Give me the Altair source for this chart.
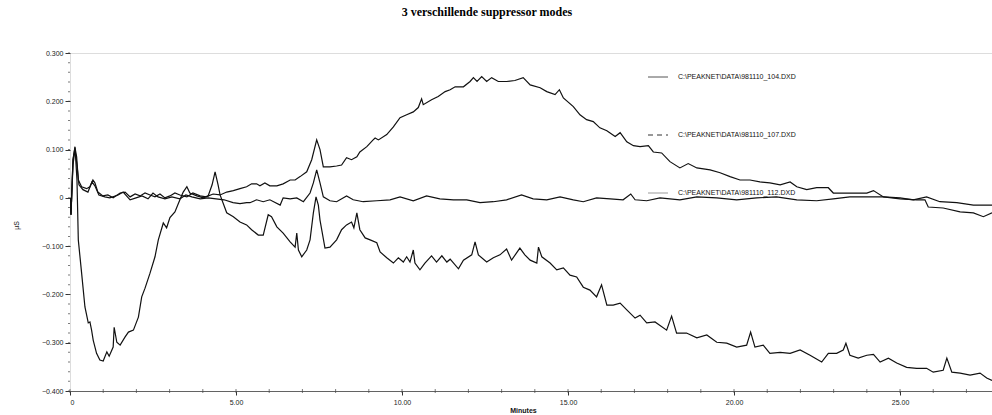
import altair as alt
import pandas as pd
import numpy as np

TITLE = "3 verschillende suppressor modes"
LABELS = ["C:\\PEAKNET\\DATA\\981110_104.DXD",
          "C:\\PEAKNET\\DATA\\981110_107.DXD",
          "C:\\PEAKNET\\DATA\\981110_112.DXD"]

# series 104 (rising drift)
T_104 = [0, 0.03, 0.09, 0.15, 0.20, 0.25, 0.35, 0.50, 0.60, 0.69, 0.75, 0.84, 0.99, 1.14, 1.30, 1.51, 1.66,
         1.81, 1.96, 2.11, 2.26, 2.41, 2.56, 2.71, 2.86, 3.01, 3.16, 3.31, 3.52, 3.70, 3.92, 4.10, 4.31, 4.52,
         4.72, 4.92, 5.12, 5.32, 5.47, 5.62, 5.72, 5.87, 6.02, 6.23, 6.42, 6.63, 6.78, 6.93, 7.13, 7.28, 7.43,
         7.53, 7.63, 7.83, 8.03, 8.18, 8.33, 8.48, 8.64, 8.73, 8.94, 9.13, 9.19, 9.29, 9.54, 9.74, 9.94, 10.14,
         10.34, 10.49, 10.59, 10.64, 10.89, 11.09, 11.30, 11.45, 11.60, 11.85, 12.05, 12.15, 12.26, 12.40,
         12.55, 12.70, 12.90, 13.15, 13.40, 13.65, 13.86, 14.16, 14.36, 14.61, 14.74, 14.86, 15.16, 15.36,
         15.56, 15.76, 15.96, 16.17, 16.42, 16.57, 16.77, 16.97, 17.17, 17.42, 17.57, 17.82, 18.07, 18.37,
         18.62, 18.88, 19.28, 19.58, 19.88, 20.18, 20.48, 20.78, 21.08, 21.39, 21.69, 21.89, 22.19, 22.49,
         22.84, 22.99, 23.49, 24.00, 24.20, 24.50, 25.00, 25.40, 25.80, 26.20, 26.71, 27.21, 27.77]
V_104 = [0, -0.035, 0.079, 0.104, 0.085, 0.037, 0.023, 0.019, 0.023, 0.037, 0.031, 0.012, 0.004, 0.006, 0.0,
         0.010, 0.012, 0.002, 0.008, 0.004, 0.010, 0.006, 0.002, 0.008, 0.0, 0.004, 0.010, 0.006, 0.002, 0.010,
         0.004, 0.002, 0.008, 0.006, 0.012, 0.015, 0.019, 0.023, 0.029, 0.029, 0.025, 0.031, 0.025, 0.025,
         0.029, 0.037, 0.037, 0.044, 0.054, 0.079, 0.120, 0.100, 0.064, 0.064, 0.066, 0.068, 0.083, 0.079,
         0.085, 0.095, 0.106, 0.120, 0.124, 0.120, 0.131, 0.147, 0.166, 0.172, 0.178, 0.187, 0.205, 0.193,
         0.203, 0.210, 0.220, 0.224, 0.230, 0.230, 0.241, 0.249, 0.241, 0.251, 0.241, 0.249, 0.241, 0.241,
         0.243, 0.249, 0.234, 0.228, 0.220, 0.214, 0.224, 0.207, 0.189, 0.172, 0.162, 0.158, 0.145, 0.139,
         0.127, 0.135, 0.116, 0.108, 0.106, 0.108, 0.095, 0.093, 0.075, 0.062, 0.071, 0.062, 0.058, 0.052,
         0.044, 0.037, 0.037, 0.033, 0.031, 0.027, 0.033, 0.023, 0.017, 0.021, 0.021, 0.010, 0.010, 0.010,
         0.015, 0.002, 0.0, -0.004, 0.002, -0.008, -0.010, -0.015, -0.015]

# series 107 (flat)
T_107 = [0, 0.03, 0.09, 0.15, 0.21, 0.27, 0.39, 0.54, 0.66, 0.75, 0.87, 1.05, 1.20, 1.45, 1.60, 1.81, 1.99,
         2.17, 2.35, 2.50, 2.65, 2.86, 3.07, 3.31, 3.49, 3.67, 3.92, 4.16, 4.40, 4.64, 4.91, 5.12, 5.32, 5.42,
         5.62, 5.82, 6.02, 6.33, 6.42, 6.63, 6.83, 7.03, 7.23, 7.33, 7.43, 7.53, 7.63, 7.83, 8.03, 8.33, 8.53,
         8.83, 9.24, 9.64, 9.94, 10.34, 10.74, 11.14, 11.55, 11.95, 12.35, 12.75, 13.15, 13.60, 13.95, 14.36,
         14.76, 15.16, 15.46, 15.86, 16.27, 16.66, 16.89, 17.02, 17.37, 17.77, 18.37, 18.88, 19.48, 20.08,
         20.68, 21.28, 21.89, 22.49, 22.99, 23.49, 24.00, 24.50, 25.00, 25.50, 25.75, 25.85, 26.30, 26.81,
         27.21, 27.51, 27.77]
V_107 = [0, -0.035, 0.068, 0.100, 0.068, 0.027, 0.017, 0.012, 0.033, 0.025, 0.006, 0.002, 0.0, 0.006, 0.012,
         -0.004, 0.0, 0.004, -0.002, 0.010, 0.002, -0.002, 0.002, -0.002, 0.006, 0.002, -0.002, 0.0, -0.002,
         -0.004, -0.010, -0.012, -0.010, -0.010, -0.004, -0.008, -0.004, -0.015, 0.0, -0.002, 0.0, -0.008,
         0.010, 0.031, 0.058, 0.031, 0.002, -0.006, -0.008, 0.004, -0.004, -0.008, -0.006, -0.004, 0.002,
         -0.006, 0.004, -0.002, -0.004, -0.004, -0.010, -0.008, -0.004, 0.006, -0.002, -0.004, 0.002, -0.004,
         -0.008, 0.0, -0.002, -0.004, 0.008, -0.004, -0.006, 0.0, -0.004, 0.002, 0.0, -0.004, 0.0, 0.002,
         -0.004, -0.006, -0.002, 0.002, 0.002, 0.002, -0.002, -0.004, -0.004, -0.019, -0.021, -0.029, -0.031,
         -0.039, -0.031]

# series 112 (negative dip)
T_112 = [0, 0.03, 0.09, 0.15, 0.21, 0.25, 0.35, 0.45, 0.55, 0.60, 0.65, 0.70, 0.80, 0.90, 1.00, 1.11, 1.18,
         1.30, 1.33, 1.41, 1.51, 1.66, 1.76, 1.91, 2.06, 2.16, 2.26, 2.41, 2.56, 2.66, 2.81, 2.91, 3.01, 3.16,
         3.31, 3.41, 3.52, 3.61, 3.82, 4.01, 4.16, 4.28, 4.37, 4.46, 4.52, 4.72, 4.92, 5.12, 5.32, 5.47, 5.67,
         5.82, 5.97, 6.07, 6.23, 6.42, 6.63, 6.78, 6.83, 6.88, 6.98, 7.13, 7.23, 7.33, 7.41, 7.48, 7.53, 7.68,
         7.83, 8.03, 8.18, 8.33, 8.48, 8.55, 8.64, 8.73, 8.89, 9.04, 9.24, 9.34, 9.54, 9.74, 9.89, 10.04,
         10.14, 10.24, 10.34, 10.39, 10.54, 10.69, 10.89, 11.04, 11.20, 11.35, 11.45, 11.70, 11.85, 12.10,
         12.20, 12.30, 12.55, 12.75, 12.95, 13.15, 13.30, 13.55, 13.70, 13.86, 14.06, 14.11, 14.21, 14.46,
         14.66, 14.86, 15.06, 15.26, 15.46, 15.66, 15.86, 16.01, 16.17, 16.36, 16.57, 16.77, 17.02, 17.17,
         17.37, 17.62, 17.97, 18.12, 18.27, 18.57, 18.88, 19.18, 19.48, 19.78, 20.08, 20.38, 20.50, 20.63,
         20.88, 21.08, 21.39, 21.69, 21.99, 22.29, 22.64, 22.84, 23.09, 23.29, 23.37, 23.49, 23.74, 24.00,
         24.20, 24.40, 24.65, 24.90, 25.20, 25.50, 25.80, 26.00, 26.30, 26.41, 26.56, 26.81, 27.11, 27.41,
         27.61, 27.77]
V_112 = [0, -0.035, 0.079, 0.106, 0.037, -0.087, -0.156, -0.226, -0.259, -0.257, -0.274, -0.295, -0.322,
         -0.336, -0.338, -0.319, -0.328, -0.309, -0.268, -0.299, -0.305, -0.288, -0.278, -0.274, -0.247,
         -0.205, -0.187, -0.156, -0.122, -0.087, -0.052, -0.062, -0.041, -0.029, -0.004, 0.012, 0.023, 0.010,
         0.004, 0.0, 0.004, 0.027, 0.054, 0.027, 0.006, -0.031, -0.039, -0.050, -0.056, -0.066, -0.077,
         -0.077, -0.035, -0.039, -0.060, -0.073, -0.091, -0.102, -0.073, -0.108, -0.122, -0.108, -0.087,
         -0.031, 0.002, -0.015, -0.046, -0.104, -0.102, -0.087, -0.066, -0.056, -0.050, -0.062, -0.031,
         -0.066, -0.083, -0.087, -0.093, -0.112, -0.124, -0.135, -0.124, -0.133, -0.122, -0.133, -0.108,
         -0.135, -0.149, -0.135, -0.120, -0.133, -0.120, -0.133, -0.127, -0.147, -0.129, -0.118, -0.091,
         -0.118, -0.133, -0.124, -0.118, -0.106, -0.129, -0.104, -0.118, -0.129, -0.135, -0.102, -0.122,
         -0.135, -0.149, -0.145, -0.160, -0.164, -0.185, -0.191, -0.205, -0.180, -0.222, -0.222, -0.218,
         -0.232, -0.249, -0.243, -0.259, -0.257, -0.274, -0.245, -0.280, -0.280, -0.290, -0.284, -0.299,
         -0.301, -0.309, -0.305, -0.278, -0.309, -0.305, -0.322, -0.320, -0.322, -0.315, -0.326, -0.340,
         -0.322, -0.322, -0.315, -0.301, -0.326, -0.332, -0.326, -0.324, -0.340, -0.332, -0.342, -0.351,
         -0.353, -0.353, -0.361, -0.357, -0.332, -0.361, -0.363, -0.367, -0.363, -0.373, -0.378]

X_MAJOR = [0, 5, 10, 15, 20, 25]
Y_MAJOR = [-0.4, -0.3, -0.2, -0.1, 0.0, 0.1, 0.2, 0.3]

frames = []
for lab, t, v in zip(LABELS, [T_104, T_107, T_112], [V_104, V_107, V_112]):
    frames.append(pd.DataFrame({"t": t, "v": v, "series": lab, "order": range(len(t))}))
df = pd.concat(frames, ignore_index=True)

FONT = "Liberation Sans"
xscale = alt.Scale(domain=[0, 27.77], nice=False, zero=False)
yscale = alt.Scale(domain=[-0.4, 0.3], nice=False, zero=False)

xaxis = alt.Axis(
    values=X_MAJOR, labelExpr="datum.value == 0 ? '0' : format(datum.value, '.2f')",
    title="Minutes", titleFont=FONT, titleFontSize=7, titleFontWeight="bold", titleColor="#111",
    titleX=453, titleY=19, titleBaseline="middle",
    labelFont=FONT, labelFontSize=7, labelColor="#222", tickSize=4, tickColor="#333",
    labelPadding=3, domainColor="#444", domainWidth=0.8, grid=False)
yaxis = alt.Axis(
    values=Y_MAJOR, labelExpr="datum.value == 0 ? '0' : format(datum.value, '.3f')",
    title="µS", titleFont=FONT, titleFontSize=7, titleFontWeight="normal", titleColor="#111",
    titleX=-54, titleY=172, titleAngle=270, titleAlign="center", titleBaseline="middle",
    labelFont=FONT, labelFontSize=7, labelColor="#222", tickSize=5, tickColor="#333",
    labelPadding=2, domain=False, grid=False)

lines = alt.Chart(df).mark_line(color="#111111", strokeWidth=1.2, clip=True).encode(
    x=alt.X("t:Q", scale=xscale, axis=xaxis),
    y=alt.Y("v:Q", scale=yscale, axis=yaxis),
    detail="series:N",
    order="order:Q",
)

# minor ticks
y_minor = pd.DataFrame({"v": np.round(np.arange(-0.4, 0.3001, 0.02), 3)})
x_minor = pd.DataFrame({"t": np.arange(0, 28, 1.0)})
ytick = alt.Chart(y_minor).mark_tick(color="#444", size=2, thickness=1).encode(
    y=alt.Y("v:Q", scale=yscale, axis=yaxis), x=alt.value(-1))
xtick = alt.Chart(x_minor).mark_tick(color="#444", size=4, thickness=1).encode(
    x=alt.X("t:Q", scale=xscale, axis=xaxis), y=alt.value(338))

# manual legend
one = pd.DataFrame({"a": [0]})
leg_y = [24, 82, 140]
leg_dash = [[1, 0], [5, 4], [1, 0]]
leg_col = ["#555", "#333", "#999"]
legend_layers = []
for lab, ly, dash, col in zip(LABELS, leg_y, leg_dash, leg_col):
    legend_layers.append(alt.Chart(one).mark_rule(color=col, strokeWidth=1, strokeDash=dash).encode(
        x=alt.value(578), x2=alt.value(598), y=alt.value(ly)))
    legend_layers.append(alt.Chart(one).mark_text(text=lab, align="left", baseline="middle",
                                                  font=FONT, fontSize=7, color="#111").encode(
        x=alt.value(608), y=alt.value(ly)))

chart = alt.layer(lines, ytick, xtick, *legend_layers).properties(
    width=922, height=338,
    padding={"left": 70, "top": 53, "right": 0, "bottom": 24},
    autosize=alt.AutoSizeParams(type="none"),
    title=alt.TitleParams(TITLE, font="Liberation Serif", fontSize=12, fontWeight="bold",
                          anchor="middle", offset=30, dx=-44, color="#000"),
).configure_view(stroke=None).configure(background="white")

chart.save("out.html", embed_options={"renderer": "svg", "actions": False})
